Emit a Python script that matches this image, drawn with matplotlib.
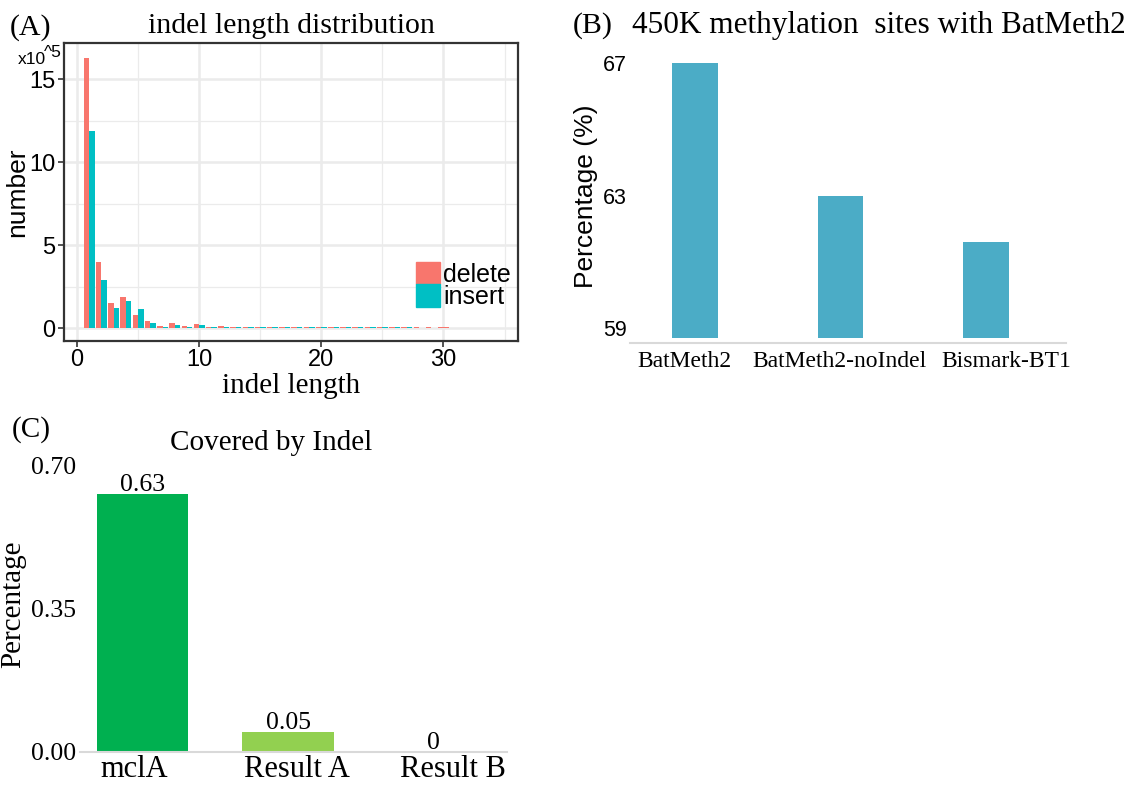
import numpy as np
import matplotlib
matplotlib.use("Agg")
import matplotlib.pyplot as plt
from matplotlib.patches import Patch

SERIF = "Liberation Serif"
SANS = "Liberation Sans"

# (A) indel length distribution, counts in units of 1e5
indel_len = list(range(1, 36))
delete_cnt = [16.3, 3.96, 1.49, 1.85, 0.77, 0.42, 0.14, 0.30, 0.14, 0.24,
              0.09, 0.14, 0.07, 0.08, 0.06, 0.06, 0.06, 0.06, 0.06, 0.06,
              0.06, 0.06, 0.06, 0.06, 0.06, 0.06, 0.06, 0.06, 0.06, 0.06,
              0.02, 0.02, 0.02, 0.02, 0.02]
insert_cnt = [11.9, 2.93, 1.19, 1.61, 1.13, 0.28, 0.08, 0.18, 0.07, 0.18,
              0.05, 0.08, 0.05, 0.05, 0.05, 0.05, 0.05, 0.05, 0.05, 0.05,
              0.05, 0.05, 0.05, 0.05, 0.05, 0.05, 0.05, 0.02, 0.02, np.nan,
              np.nan, np.nan, np.nan, np.nan, np.nan]

# (B) 450K methylation sites
tools_b = ["BatMeth2", "BatMeth2-noIndel", "Bismark-BT1"]
pct_b = [67.0, 63.0, 61.6]
yticks_b = [59, 63, 67]

# (C) covered by indel
groups_c = ["mclA", "Result A", "Result B"]
pct_c = [0.63, 0.05, 0.0]
yticks_c = [0.00, 0.35, 0.70]

fig = plt.figure(figsize=(11.35, 7.85), dpi=100)
W, H = 1135, 785


def px(x0, y0, x1, y1):
    return [x0 / W, 1 - y1 / H, (x1 - x0) / W, (y1 - y0) / H]


# ---------------- panel A ----------------
axA = fig.add_axes(px(64, 43, 518, 341))
x = np.array(indel_len, dtype=float)
dl = np.array(delete_cnt)
ins = np.array(insert_cnt)
has_ins = ~np.isnan(ins)
axA.bar(x[has_ins] - 0.225, dl[has_ins], width=0.45, color="#F8766D", zorder=3)
axA.bar(x[~has_ins], dl[~has_ins], width=0.9, color="#F8766D", zorder=3)
axA.bar(x[has_ins] + 0.225, ins[has_ins], width=0.45, color="#00BFC4", zorder=3)
axA.set_xlim(-1.07, 36.1)
axA.set_ylim(-0.78, 17.2)
axA.set_xticks([0, 10, 20, 30])
axA.set_xticks([5, 15, 25, 35], minor=True)
axA.set_yticks([0, 5, 10, 15])
axA.set_yticks([2.5, 7.5, 12.5], minor=True)
axA.grid(which="major", color="#EBEBEB", lw=1.8)
axA.grid(which="minor", color="#EBEBEB", lw=0.9)
axA.set_axisbelow(True)
for s in axA.spines.values():
    s.set_color("#333333")
    s.set_linewidth(1.6)
axA.tick_params(which="major", direction="out", length=4, width=1.2,
                color="#333333", labelsize=17, pad=2)
axA.tick_params(which="minor", length=0)
for lab in axA.get_xticklabels() + axA.get_yticklabels():
    lab.set_fontfamily(SANS)
axA.set_ylabel("number", fontfamily=SANS, fontsize=19, labelpad=0)
axA.set_xlabel("indel length", fontfamily=SERIF, fontsize=21, labelpad=1)
axA.set_title("indel length distribution", fontfamily=SERIF, fontsize=21.5, pad=7)
axA.legend(handles=[Patch(color="#F8766D", label="delete"),
                    Patch(color="#00BFC4", label="insert")],
           loc="upper left", bbox_to_anchor=(416 / W, 1 - 262 / H),
           bbox_transform=fig.transFigure, frameon=False, borderpad=0,
           borderaxespad=0, handlelength=0.95, handleheight=1.0,
           handletextpad=0.15, labelspacing=-0.1,
           prop={"family": SANS, "size": 18})
fig.text(18 / W, 1 - 64 / H, "x10", fontfamily=SANS, fontsize=12.5, va="baseline")
fig.text(44 / W, 1 - 57 / H, "^5", fontfamily=SANS, fontsize=12.5, va="baseline")
fig.text(10 / W, 1 - 35 / H, "(A)", fontfamily=SERIF, fontsize=21.5, va="baseline")

# ---------------- panel B ----------------
axB = fig.add_axes(px(630, 55, 1066, 338))
xb = np.arange(len(tools_b))
b_floor = 58.7
axB.bar(xb, np.array(pct_b) - b_floor, bottom=b_floor,
        width=0.31, color="#4BACC6")
axB.set_xlim(-0.447, 2.55)
axB.set_ylim(b_floor, 67.25)
for k in ["top", "right", "left"]:
    axB.spines[k].set_visible(False)
axB.spines["bottom"].set_color("#D9D9D9")
axB.spines["bottom"].set_linewidth(1.5)
axB.spines["bottom"].set_position(("outward", 3.6))
# category labels sit a little off the bar centres in the original
axB.set_xticks(xb + np.array([-0.076, -0.007, 0.137]))
axB.set_xticklabels(tools_b, fontfamily=SERIF, fontsize=17)
axB.set_yticks(yticks_b)
axB.set_yticklabels([str(v) for v in yticks_b], fontfamily=SANS, fontsize=15.5)
axB.tick_params(axis="x", length=0, pad=6)
axB.tick_params(axis="y", length=0, pad=2)
axB.set_ylabel("Percentage (%)", fontfamily=SANS, fontsize=19, labelpad=4)
fig.text(573 / W, 1 - 33 / H, "(B)", fontfamily=SERIF, fontsize=21.5, va="baseline")
fig.text(632 / W, 1 - 33 / H, "450K methylation  sites with BatMeth2",
         fontfamily=SERIF, fontsize=22.5, va="baseline")

# ---------------- panel C ----------------
axC = fig.add_axes(px(80, 457, 507, 752))
xc = np.arange(len(groups_c))
axC.bar(xc, pct_c, width=0.63, color=["#00B050", "#92D050", "#92D050"])
for xi, v in zip(xc, pct_c):
    axC.annotate(f"{v:g}", (xi, v), xytext=(0, 2), textcoords="offset points",
                 ha="center", va="baseline", fontfamily=SERIF, fontsize=18.5)
axC.set_xlim(-0.43, 2.505)
axC.set_ylim(0, 0.72)
for k in ["top", "right", "left"]:
    axC.spines[k].set_visible(False)
axC.spines["bottom"].set_color("#D9D9D9")
axC.spines["bottom"].set_linewidth(1.5)
axC.set_xticks(xc + np.array([-0.055, 0.062, 0.13]))
axC.set_xticklabels(groups_c, fontfamily=SERIF, fontsize=22)
axC.set_yticks(yticks_c)
axC.set_yticklabels([f"{v:.2f}" for v in yticks_c], fontfamily=SERIF, fontsize=18.5)
axC.tick_params(axis="x", length=0, pad=2)
axC.tick_params(axis="y", length=0, pad=3)
axC.set_ylabel("Percentage", fontfamily=SERIF, fontsize=21, labelpad=3)
axC.set_title("Covered by Indel", fontfamily=SERIF, fontsize=21, pad=5,
              x=(271 - 80) / 427)
fig.text(12 / W, 1 - 437 / H, "(C)", fontfamily=SERIF, fontsize=21, va="baseline")

fig.savefig("out.png", dpi=100)
